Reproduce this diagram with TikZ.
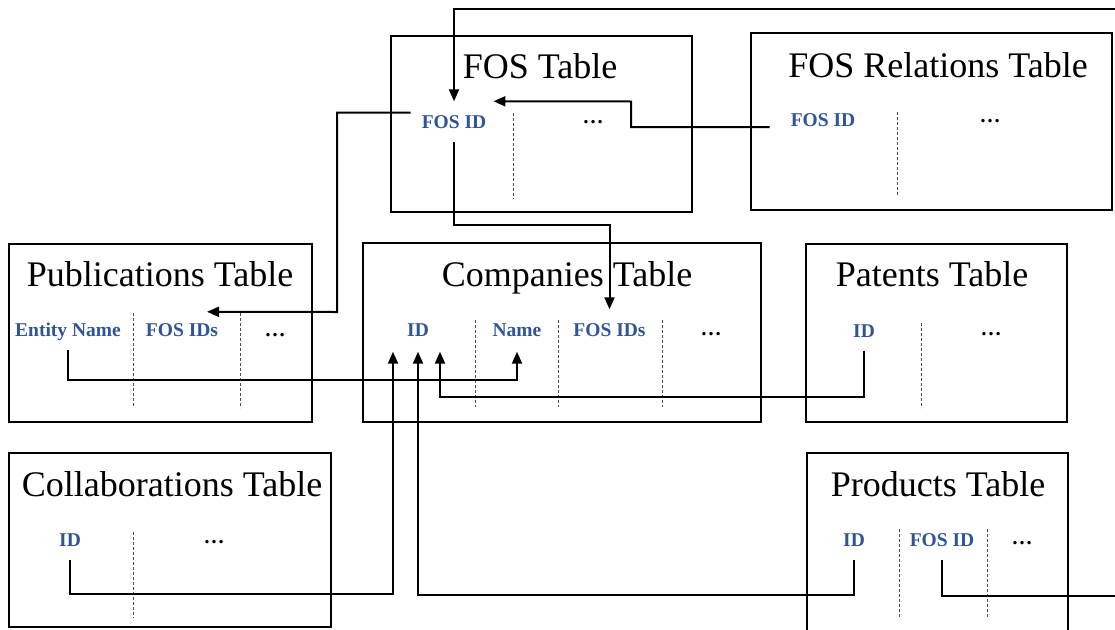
\documentclass[tikz,border=0pt]{standalone}
\usepackage{fontspec}
\setmainfont{Liberation Serif}
\usetikzlibrary{positioning,calc,arrows.meta}
\definecolor{fieldblue}{RGB}{47,85,151}
\tikzset{
  tbltitle/.style={anchor=base, inner sep=0.75pt, font=\fontsize{36}{40}\selectfont},
  field/.style={text=fieldblue, font=\fontsize{19.5}{22}\selectfont\bfseries, text height=13pt, text depth=0pt, inner xsep=2pt, inner ysep=13.5pt},
  ellip/.style={anchor=base, inner sep=0.75pt, font=\fontsize{21}{24}\selectfont\bfseries},
  colsep/.style={draw=black!70, line width=0.9pt, dash pattern=on 3pt off 2pt},
  link/.style={line width=2pt, -{Triangle[length=12pt,width=10pt]}},
}

\begin{document}
\begin{tikzpicture}[x=1pt,y=1pt,yscale=-1,xscale=1]
\useasboundingbox (0,0) rectangle (1115,629);

%Shape: Rectangle [FOS Table]
\draw [line width=2pt] (391,36) rectangle (692,212);
%Shape: Rectangle [FOS Relations Table]
\draw [line width=2pt] (751,33) rectangle (1112,210);
%Shape: Rectangle [Publications Table]
\draw [line width=2pt] (9,244) rectangle (312,422);
%Shape: Rectangle [Companies Table]
\draw [line width=2pt] (363,243) rectangle (761,422);
%Shape: Rectangle [Patents Table]
\draw [line width=2pt] (806,244) rectangle (1067,422);
%Shape: Rectangle [Collaborations Table]
\draw [line width=2pt] (9,453) rectangle (331,627);
%Shape: Rectangle [Products Table]
\draw [line width=2pt] (807,453) rectangle (1068,645);

%Dashed Lines
\draw [colsep] (513,113) -- (513,199);
\draw [colsep] (897,112) -- (897,197);
\draw [colsep] (133,313) -- (133,408);
\draw [colsep] (240,313) -- (240,408);
\draw [colsep] (475,320) -- (475,407);
\draw [colsep] (558,320) -- (558,407);
\draw [colsep] (662,320) -- (662,407);
\draw [colsep] (921,323) -- (921,408);
\draw [colsep] (133,532) -- (133,618);
\draw [colsep] (899,529) -- (899,617);
\draw [colsep] (987,529) -- (987,617);

% Text Node
\node [tbltitle] (fosTitle) at (540,78) {FOS Table};
\node [tbltitle] (relTitle) at (938,77) {FOS Relations Table};
\node [tbltitle] (pubTitle) at (160,286.5) {Publications Table};
\node [tbltitle] (coTitle) at (567,286.5) {Companies Table};
\node [tbltitle] (patTitle) at (932,286.5) {Patents Table};
\node [tbltitle] (colTitle) at (172,496) {Collaborations Table};
\node [tbltitle] (prodTitle) at (938,496.5) {Products Table};

% Field Nodes
\node [field] (fosID) at (454,121.5) {FOS ID};
\node [field] (relID) at (823,120) {FOS ID};
\node [field] (pubName) at (68,330) {Entity Name};
\node [field] (pubFOS) at (182,330) {FOS IDs};
\node [field] (coID) at (418,329.5) {ID};
\node [field] (coName) at (517,329.5) {Name};
\node [field] (coFOS) at (609.5,329.5) {FOS IDs};
\node [field] (patID) at (864,330.5) {ID};
\node [field] (colID) at (70,539.5) {ID};
\node [field] (prodID) at (854,540) {ID};
\node [field] (prodFOS) at (942,540) {FOS ID};

% Dots
\node [ellip] (fosMore) at (593,123) {\ldots};
\node [ellip] (relMore) at (990,122) {\ldots};
\node [ellip] (pubMore) at (275,336) {\ldots};
\node [ellip] (coMore) at (711,335) {\ldots};
\node [ellip] (patMore) at (991,335) {\ldots};
\node [ellip] (colMore) at (214,543) {\ldots};
\node [ellip] (prodMore) at (1022,544) {\ldots};

%Straight Lines
\draw [link] ($(fosID.west)+(-9,-9)$) -| (337,312) -- ($(pubFOS.north)+(25,2)$);
\draw [link] (fosID.south) |- (coFOS.north |- 0,225) -- (coFOS.north);
\draw [link] ($(relID.west)+(-19,7)$) -| (631,101.5) -- ($(fosID.north east)+(5,0)$);
\draw [link] (prodFOS.south) |- (1140,596) |- (fosID.north |- 0,9) -- (fosID.north);
\draw [link] (pubName.south) |- (coName.south |- 0,380) -- ($(coName.south)+(0,2)$);
\draw [link] (patID.south) |- (440,397) -- ($(coID.south)+(22,2)$);
\draw [link] (colID.south) |- (393,594) -- ($(coID.south)+(-25,2)$);
\draw [link] (prodID.south) |- (coID.south |- 0,595) -- ($(coID.south)+(0,2)$);
\end{tikzpicture}
\end{document}
